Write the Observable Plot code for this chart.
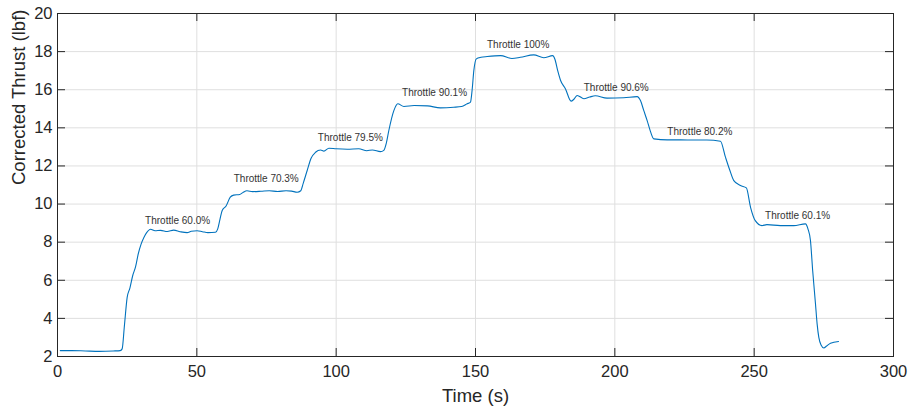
<!DOCTYPE html>
<html>
<head>
<meta charset="utf-8">
<script src="https://cdn.jsdelivr.net/npm/d3@7"></script>
<script src="https://cdn.jsdelivr.net/npm/@observablehq/plot@0.6"></script>
<style>
  html, body { margin: 0; padding: 0; background: #fff; }
  svg { font-family: "Liberation Sans", Arial, sans-serif; }
</style>
</head>
<body>
<div id="chart"></div>
<script>
const times = [1, 5, 10, 15, 20, 22.5, 23.2, 24, 25, 26, 27, 28, 29, 30, 31, 32, 33.4, 35, 37, 39.4, 41.7, 44, 46.5, 48, 50.1, 52, 54, 56.7, 57.5, 58.3, 59.1, 60.5, 62, 63.2, 65.4, 66.5, 68, 70, 73, 76, 79, 82, 84, 86, 87.3, 88.2, 89.6, 91, 92.6, 94.4, 95.6, 97.4, 100, 104, 108.1, 111, 113, 115.9, 117.1, 118, 118.9, 120.7, 122.1, 124.3, 128, 132.8, 137.4, 142.2, 145, 147, 148.2, 148.8, 149.4, 150.3, 152, 154.2, 159, 163.1, 166.1, 170.9, 174.5, 177.7, 178.5, 179.5, 180.5, 182.3, 184.3, 185.3, 186.5, 188.9, 191, 193, 197.2, 203.2, 208, 209.2, 210.4, 211.6, 212.8, 214, 218.8, 223.6, 228.4, 233, 237.9, 239.7, 241.2, 242.7, 245.1, 247.2, 248.7, 250.4, 252.8, 254.6, 259.4, 264.2, 268.4, 269.3, 270.2, 271, 272, 272.6, 273.2, 274, 275, 276, 277.4, 280.3];
const thrust = [2.31, 2.31, 2.29, 2.27, 2.29, 2.31, 2.4, 3.6, 5.1, 5.6, 6.25, 6.7, 7.4, 7.9, 8.25, 8.5, 8.68, 8.6, 8.62, 8.56, 8.63, 8.55, 8.5, 8.57, 8.6, 8.55, 8.5, 8.52, 8.7, 9.2, 9.66, 9.9, 10.36, 10.47, 10.5, 10.6, 10.7, 10.65, 10.67, 10.7, 10.66, 10.7, 10.68, 10.62, 10.7, 11.1, 11.76, 12.4, 12.72, 12.84, 12.78, 12.93, 12.9, 12.88, 12.9, 12.8, 12.84, 12.75, 12.82, 13.2, 13.86, 14.9, 15.26, 15.12, 15.17, 15.15, 15.05, 15.08, 15.12, 15.26, 15.35, 16.0, 17.0, 17.62, 17.7, 17.74, 17.79, 17.64, 17.7, 17.83, 17.68, 17.79, 17.6, 17.0, 16.5, 16.04, 15.4, 15.5, 15.7, 15.53, 15.62, 15.68, 15.56, 15.58, 15.64, 15.43, 14.9, 14.38, 13.8, 13.42, 13.37, 13.37, 13.36, 13.36, 13.3, 12.46, 11.8, 11.23, 10.97, 10.85, 9.83, 9.13, 8.87, 8.92, 8.87, 8.87, 8.96, 8.7, 8.09, 6.5, 4.77, 3.7, 3.0, 2.6, 2.45, 2.55, 2.7, 2.79];

const labelTexts = ["Throttle 60.0%", "Throttle 70.3%", "Throttle 79.5%", "Throttle 90.1%", "Throttle 100%", "Throttle 90.6%", "Throttle 80.2%", "Throttle 60.1%"];
const labelTimes = [43.1, 74.9, 105.1, 135.3, 165.3, 200.5, 230.5, 265.6];
const labelThrust = [9.1, 11.32, 13.5, 15.83, 18.35, 16.08, 13.77, 9.36];

const xTicks = [0, 50, 100, 150, 200, 250, 300];
const yTicks = [2, 4, 6, 8, 10, 12, 14, 16, 18, 20];
const xTitle = "Time (s)";
const yTitle = "Corrected Thrust (lbf)";

const series = times.map((t, i) => ({t, v: thrust[i]}));
const labels = labelTexts.map((s, i) => ({s, t: labelTimes[i], v: labelThrust[i]}));

const W = 912, H = 409, mL = 57, mR = 19, mT = 13, mB = 53;
const plotW = W - mL - mR, plotH = H - mT - mB, tk = 8;
const ink = "#262626";

const chart = Plot.plot({
  width: W, height: H,
  marginLeft: mL, marginRight: mR, marginTop: mT, marginBottom: mB,
  style: {fontFamily: "'Liberation Sans', Arial, sans-serif", color: ink, background: "#fff"},
  x: {domain: [0, 300]},
  y: {domain: [2, 20]},
  marks: [
    Plot.gridX(xTicks, {stroke: "#dfdfdf", strokeOpacity: 1}),
    Plot.gridY(yTicks, {stroke: "#dfdfdf", strokeOpacity: 1}),
    Plot.line(series, {x: "t", y: "v", stroke: "#0072BD", strokeWidth: 1.1, curve: "monotone-x"}),
    Plot.text(labels, {x: "t", y: "v", text: "s", fontSize: 10, fill: "#333"}),
    Plot.tickX(xTicks, {x: d => d, stroke: ink, insetTop: plotH - tk}),
    Plot.tickX(xTicks, {x: d => d, stroke: ink, insetBottom: plotH - tk}),
    Plot.tickY(yTicks, {y: d => d, stroke: ink, insetRight: plotW - tk}),
    Plot.tickY(yTicks, {y: d => d, stroke: ink, insetLeft: plotW - tk}),
    Plot.frame({stroke: ink}),
    Plot.axisX(xTicks, {tickSize: 0, tickPadding: 9, fontSize: 16.5, fill: ink, label: null}),
    Plot.axisY(yTicks, {tickSize: 0, tickPadding: 5, fontSize: 16.5, fill: ink, label: null}),
    Plot.text([xTitle], {text: d => d, frameAnchor: "bottom", dy: 40, fontSize: 18.5, fill: ink, lineAnchor: "middle"}),
    Plot.text([yTitle], {text: d => d, frameAnchor: "left", dx: -38, rotate: -90, fontSize: 18.5, fill: ink, lineAnchor: "middle"})
  ]
});
document.getElementById("chart").appendChild(chart);
</script>
</body>
</html>
